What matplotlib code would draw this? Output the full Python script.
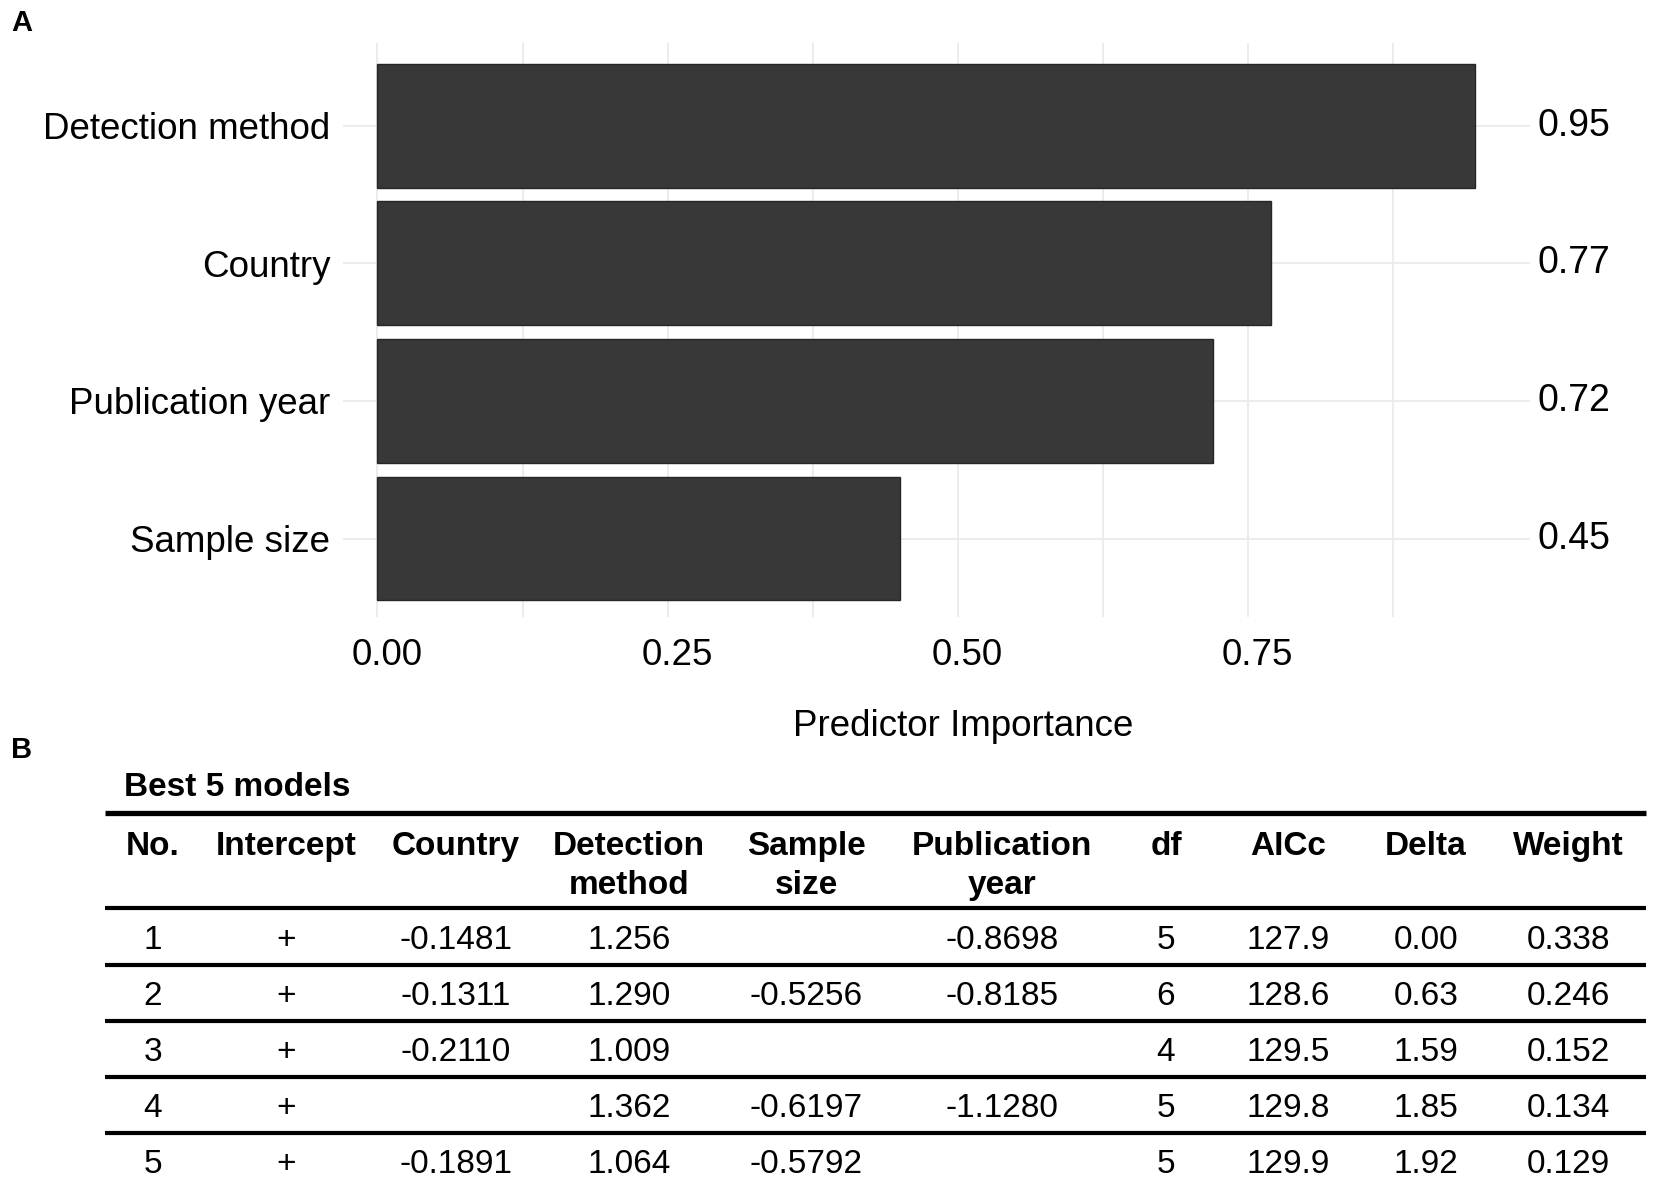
import matplotlib
matplotlib.use("Agg")
import matplotlib.pyplot as plt
import matplotlib.transforms as mtransforms
import numpy as np

plt.rcParams['font.family'] = ['Liberation Sans', 'DejaVu Sans']

# panel A data
predictors = ['Detection method', 'Country', 'Publication year', 'Sample size']
importance = [0.946, 0.77, 0.72, 0.45]
x_ticks = [0.00, 0.25, 0.50, 0.75]
x_minor = [0.125, 0.375, 0.625, 0.875]

# panel B data (best 5 models)
col_headers = ['No.', 'Intercept', 'Country', 'Detection\nmethod', 'Sample\nsize',
               'Publication\nyear', 'df', 'AICc', 'Delta', 'Weight']
model_no = [1, 2, 3, 4, 5]
intercept = ['+', '+', '+', '+', '+']
coef_country = [-0.1481, -0.1311, -0.2110, None, -0.1891]
coef_detection = [1.256, 1.290, 1.009, 1.362, 1.064]
coef_sample = [None, -0.5256, None, -0.6197, -0.5792]
coef_pubyear = [-0.8698, -0.8185, None, -1.1280, None]
model_df = [5, 6, 4, 5, 5]
aicc = [127.9, 128.6, 129.5, 129.8, 129.9]
delta = [0.00, 0.63, 1.59, 1.85, 1.92]
weight = [0.338, 0.246, 0.152, 0.134, 0.129]

W, H = 1654, 1179
fig = plt.figure(figsize=(W / 100, H / 100), dpi=100)

# ---- panel A: bar chart
ax = fig.add_axes([343 / W, 1 - 617 / H, (1530 - 343) / W, (617 - 43) / H])
ypos = np.arange(len(predictors))[::-1]
ax.barh(ypos, importance, height=0.9, color='#383838', edgecolor='#262626',
        linewidth=1, zorder=3)
ax.set_xlim(-0.0297, 0.993)
ax.set_ylim(-0.57, 3.602)
ax.set_xticks(x_ticks)
ax.set_xticklabels(['%.2f' % t for t in x_ticks])
ax.set_xticks(x_minor, minor=True)
ax.set_yticks(ypos)
ax.set_yticklabels(predictors)
ax.grid(True, which='both', axis='x', color='#ebebeb', linewidth=1.3, zorder=0)
ax.grid(True, which='major', axis='y', color='#ebebeb', linewidth=1.3, zorder=0)
ax.tick_params(axis='both', which='both', length=0, labelsize=26.5, colors='black')
ax.tick_params(axis='y', pad=9)
ax.tick_params(axis='x', pad=15)
for s in ax.spines.values():
    s.set_visible(False)

# x labels sit a little right of their gridlines in the original
shift = mtransforms.ScaledTranslation(7 / 72, 0, fig.dpi_scale_trans)
for lab in ax.get_xticklabels():
    lab.set_transform(lab.get_transform() + shift)

trans = mtransforms.blended_transform_factory(ax.transAxes, ax.transData)
for y, v in zip(ypos, importance):
    ax.text(1.0067, y, '%.2f' % v, transform=trans, ha='left', va='center',
            fontsize=27)

fig.text(963 / W, 1 - 727 / H, 'Predictor Importance', ha='center', va='center',
         fontsize=26.5)

fig.text(11 / W, 1 - 23 / H, 'A', ha='left', va='center', fontsize=21,
         fontweight='bold')
fig.text(11 / W, 1 - 750 / H, 'B', ha='left', va='center', fontsize=21,
         fontweight='bold')

# ---- panel B: table drawn in pixel coordinates
tax = fig.add_axes([0, 0, 1, 1])
tax.set_xlim(0, W)
tax.set_ylim(H, 0)
tax.axis('off')

tax.text(124, 788, 'Best 5 models', ha='left', va='center', fontsize=24,
         fontweight='bold')

col_x = [153, 286, 456, 629, 806, 1002, 1166, 1288, 1426, 1568]
line_x0, line_x1 = 105, 1646
tax.plot([line_x0, line_x1], [813, 813], color='black', linewidth=3.8,
         solid_capstyle='butt')
tax.plot([line_x0, line_x1], [908, 908], color='black', linewidth=3.0,
         solid_capstyle='butt')

head_base = [855, 894]
for cx, h in zip(col_x, col_headers):
    for k, part in enumerate(h.split('\n')):
        tax.text(cx, head_base[k], part, ha='center', va='baseline', fontsize=24,
                 fontweight='bold')


def fmt(v, f):
    return '' if v is None else f % v


columns = [
    [str(n) for n in model_no],
    intercept,
    [fmt(v, '%.4f') for v in coef_country],
    [fmt(v, '%.3f') for v in coef_detection],
    [fmt(v, '%.4f') for v in coef_sample],
    [fmt(v, '%.4f') for v in coef_pubyear],
    [str(v) for v in model_df],
    [fmt(v, '%.1f') for v in aicc],
    [fmt(v, '%.2f') for v in delta],
    [fmt(v, '%.3f') for v in weight],
]

row_base = [949, 1005, 1061, 1117, 1173]
row_lines = [965, 1021, 1077, 1133]
for yl in row_lines:
    tax.plot([line_x0, line_x1], [yl, yl], color='black', linewidth=3.0,
             solid_capstyle='butt')
for cx, col in zip(col_x, columns):
    for yb, s in zip(row_base, col):
        tax.text(cx, yb, s, ha='center', va='baseline', fontsize=24)

fig.savefig('out.png', dpi=100)
